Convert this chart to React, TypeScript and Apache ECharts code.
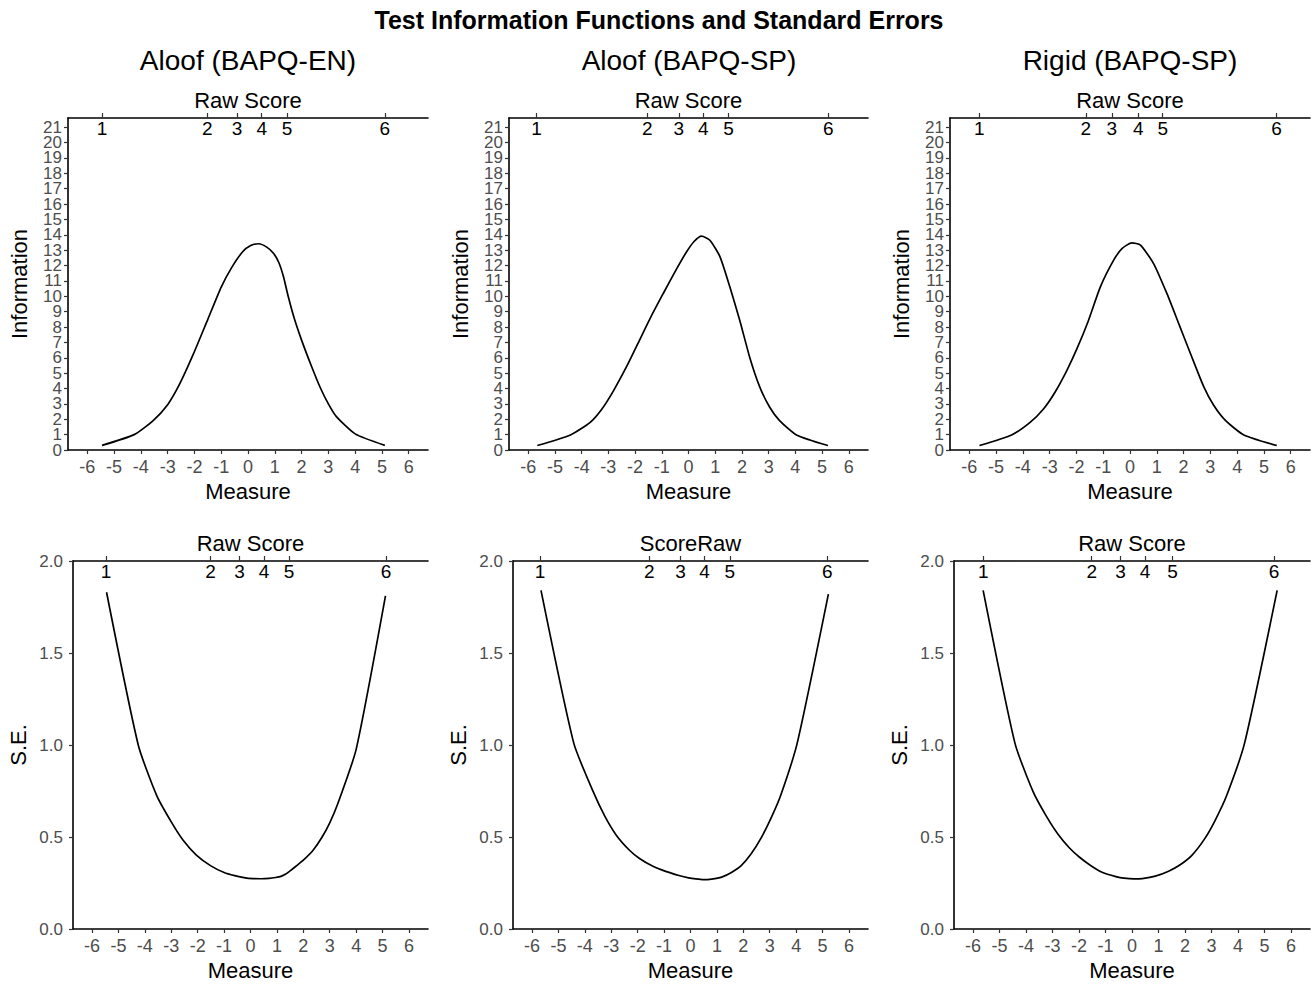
import React, { useEffect, useRef } from 'react';
import * as echarts from 'echarts';

// ---------- data ----------
const measureTicks = [-6, -5, -4, -3, -2, -1, 0, 1, 2, 3, 4, 5, 6];
const infoTicks = [0, 1, 2, 3, 4, 5, 6, 7, 8, 9, 10, 11, 12, 13, 14, 15, 16, 17, 18, 19, 20, 21];
const seTicks = [0, 0.5, 1, 1.5, 2];
const rawLabels = ['1', '2', '3', '4', '5', '6'];

const mainTitle = 'Test Information Functions and Standard Errors';
const panelTitles = ['Aloof (BAPQ-EN)', 'Aloof (BAPQ-SP)', 'Rigid (BAPQ-SP)'];
const rawNamesTop = ['Raw Score', 'Raw Score', 'Raw Score'];
const rawNamesBottom = ['Raw Score', 'ScoreRaw', 'Raw Score'];

// Aloof (BAPQ-EN)
const measure1 = [-5.45, -4.25, -3.55, -3.0, -2.55, -2.05, -1.5, -1.0, -0.6, -0.2, 0.1, 0.4, 0.7, 0.95, 1.15, 1.32, 1.5, 1.72, 2.0, 2.37, 2.7, 3.0, 3.3, 4.0, 5.11];
const info1 = [0.3, 1.0, 1.9, 2.95, 4.3, 6.2, 8.5, 10.6, 11.9, 12.9, 13.3, 13.42, 13.2, 12.8, 12.2, 11.3, 10.0, 8.6, 7.15, 5.45, 4.05, 3.0, 2.17, 1.05, 0.3];
const se1 = [1.83, 1.0, 0.725, 0.582, 0.482, 0.402, 0.343, 0.307, 0.29, 0.278, 0.274, 0.273, 0.275, 0.28, 0.286, 0.297, 0.316, 0.341, 0.374, 0.428, 0.497, 0.577, 0.679, 0.976, 1.81];
const rawTop1 = [-5.45, -1.52, -0.41, 0.51, 1.46, 5.11];
const rawBottom1 = [-5.47, -1.51, -0.42, 0.51, 1.46, 5.13];

// Aloof (BAPQ-SP)
const measure2 = [-5.66, -4.42, -3.68, -3.24, -2.81, -2.31, -1.93, -1.44, -0.94, -0.44, -0.07, 0.2, 0.49, 0.8, 1.18, 1.55, 1.92, 2.29, 2.67, 3.04, 3.41, 4.04, 5.22];
const info2 = [0.29, 0.98, 1.8, 2.67, 3.85, 5.45, 6.8, 8.55, 10.2, 11.8, 12.9, 13.55, 13.91, 13.65, 12.57, 10.6, 8.43, 6.04, 4.09, 2.78, 1.91, 0.98, 0.29];
const se2 = [1.84, 1.01, 0.745, 0.612, 0.51, 0.428, 0.383, 0.342, 0.313, 0.291, 0.278, 0.272, 0.268, 0.271, 0.282, 0.307, 0.344, 0.407, 0.494, 0.6, 0.724, 1.01, 1.82];
const rawTop2 = [-5.69, -1.54, -0.36, 0.55, 1.5, 5.23];
const rawBottom2 = [-5.7, -1.56, -0.38, 0.53, 1.49, 5.18];

// Rigid (BAPQ-SP)
const measure3 = [-5.62, -4.42, -3.73, -3.23, -2.8, -2.36, -1.98, -1.55, -1.11, -0.61, -0.3, 0.07, 0.39, 0.88, 1.38, 1.82, 2.26, 2.76, 3.13, 3.57, 4.25, 5.48];
const info3 = [0.29, 0.98, 1.8, 2.67, 3.76, 5.17, 6.59, 8.43, 10.6, 12.35, 13.1, 13.48, 13.33, 12.13, 10.17, 8.22, 6.26, 4.09, 2.89, 1.91, 0.98, 0.29];
const se3 = [1.84, 1.01, 0.745, 0.612, 0.516, 0.44, 0.39, 0.344, 0.307, 0.285, 0.276, 0.272, 0.274, 0.287, 0.314, 0.349, 0.4, 0.494, 0.588, 0.724, 1.01, 1.84];
const rawTop3 = [-5.63, -1.65, -0.68, 0.31, 1.22, 5.47];
const rawBottom3 = [-5.61, -1.52, -0.43, 0.49, 1.53, 5.36];

const measures = [measure1, measure2, measure3];
const infos = [info1, info2, info3];
const ses = [se1, se2, se3];
const rawTops = [rawTop1, rawTop2, rawTop3];
const rawBottoms = [rawBottom1, rawBottom2, rawBottom3];

// ---------- styling / layout ----------
const FONT = '"Liberation Sans", Arial, Helvetica, sans-serif';
const XMIN = -6.72;
const XMAX = 6.72;
const topGrids = [
  { left: 68, top: 118, width: 360, height: 332 },
  { left: 509, top: 118, width: 359, height: 332 },
  { left: 950, top: 118, width: 360, height: 332 },
];
const bottomGrids = [
  { left: 73, top: 561, width: 355, height: 368 },
  { left: 513, top: 561, width: 355, height: 368 },
  { left: 954, top: 561, width: 356, height: 368 },
];

function nearestIndex(arr: number[], v: number) {
  let best = 0;
  for (let i = 1; i < arr.length; i++) {
    if (Math.abs(arr[i] - v) < Math.abs(arr[best] - v)) best = i;
  }
  return best;
}

function buildOption() {
  const grid: any[] = [];
  const xAxis: any[] = [];
  const topXAxis: any[] = [];
  const yAxis: any[] = [];
  const extraY: any[] = [];
  const series: any[] = [];

  const axisLine = { show: true, onZero: false, lineStyle: { color: '#000', width: 1.6 } };
  const tickStyle = { color: '#333', width: 1.2 };

  const addPanel = (
    g: any,
    xs: number[],
    ys: number[],
    raw: number[],
    rawName: string,
    yName: string,
    yMax: number,
    yTicks: number[],
    yFmt: (v: number) => string,
    yMargin: number,
    yNameGap: number,
    splitLabels: boolean,
  ) => {
    const idx = grid.length;
    grid.push({ ...g, containLabel: false });
    xAxis.push({
      type: 'value',
      gridIndex: idx,
      position: 'bottom',
      min: XMIN,
      max: XMAX,
      axisLine,
      splitLine: { show: false },
      axisTick: { show: true, customValues: measureTicks, length: 4, lineStyle: tickStyle },
      axisLabel: {
        customValues: measureTicks,
        showMinLabel: true,
        showMaxLabel: true,
        formatter: (v: number) => String(Math.round(v)),
        color: '#4D4D4D',
        fontSize: 18,
        fontFamily: FONT,
        margin: 8,
      },
      name: 'Measure',
      nameLocation: 'middle',
      nameGap: 30,
      nameTextStyle: { color: '#000', fontSize: 22, fontFamily: FONT },
    });
    topXAxis.push({
      type: 'value',
      gridIndex: idx,
      position: 'top',
      min: XMIN,
      max: XMAX,
      axisLine,
      splitLine: { show: false },
      axisTick: { show: true, customValues: raw, length: 5, inside: false, lineStyle: tickStyle },
      axisLabel: {
        customValues: raw,
        showMinLabel: true,
        showMaxLabel: true,
        inside: true,
        margin: 1,
        formatter: (v: number) => rawLabels[nearestIndex(raw, v)],
        color: '#000',
        fontSize: 19,
        fontFamily: FONT,
      },
      name: rawName,
      nameLocation: 'middle',
      nameGap: 7,
      nameTextStyle: { color: '#000', fontSize: 22, fontFamily: FONT },
    });
    // dense labels are split over two coincident axes so that none is dropped
    const primaryLabels = splitLabels ? yTicks.filter((_, i) => i % 2 === 0) : yTicks;
    const secondaryLabels = splitLabels ? yTicks.filter((_, i) => i % 2 === 1) : [];
    const labelStyle = {
      showMinLabel: true,
      showMaxLabel: true,
      formatter: yFmt,
      color: '#4D4D4D',
      fontSize: 17,
      lineHeight: splitLabels ? 14 : 20,
      fontFamily: FONT,
      margin: yMargin,
    };
    yAxis.push({
      type: 'value',
      gridIndex: idx,
      position: 'left',
      min: 0,
      max: yMax,
      axisLine,
      splitLine: { show: false },
      axisTick: { show: true, customValues: yTicks, length: 4, lineStyle: tickStyle },
      axisLabel: { ...labelStyle, customValues: primaryLabels },
      name: yName,
      nameLocation: 'middle',
      nameGap: yNameGap,
      nameTextStyle: { color: '#000', fontSize: 22, fontFamily: FONT },
    });
    if (splitLabels) {
      extraY.push({
        type: 'value',
        gridIndex: idx,
        position: 'left',
        offset: 0,
        min: 0,
        max: yMax,
        axisLine: { show: false },
        splitLine: { show: false },
        axisTick: { show: false },
        axisLabel: { ...labelStyle, customValues: secondaryLabels },
      });
    }
    series.push({
      type: 'line',
      xAxisIndex: idx,
      yAxisIndex: idx,
      data: xs.map((x, i) => [x, ys[i]]),
      showSymbol: false,
      smooth: 0.2,
      lineStyle: { color: '#000', width: 1.7 },
      silent: true,
    });
  };

  for (let p = 0; p < 3; p++) {
    addPanel(
      topGrids[p], measures[p], infos[p], rawTops[p], rawNamesTop[p],
      'Information', 21.6, infoTicks, (v: number) => String(Math.round(v)), 6, 38, true,
    );
  }
  for (let p = 0; p < 3; p++) {
    addPanel(
      bottomGrids[p], measures[p], ses[p], rawBottoms[p], rawNamesBottom[p],
      'S.E.', 2.0, seTicks, (v: number) => v.toFixed(1), 10, 44, false,
    );
  }

  const allX = xAxis.concat(topXAxis);
  const allY = yAxis.concat(extraY);

  const panelCenters = [248, 689, 1130];
  const graphic: any[] = [
    {
      type: 'text',
      x: 659,
      y: 20,
      style: {
        text: mainTitle,
        align: 'center',
        verticalAlign: 'middle',
        fontSize: 25,
        fontWeight: 'bold',
        fontFamily: FONT,
        fill: '#000',
      },
    },
    ...panelTitles.map((t, i) => ({
      type: 'text',
      x: panelCenters[i],
      y: 60,
      style: {
        text: t,
        align: 'center',
        verticalAlign: 'middle',
        fontSize: 28,
        fontFamily: FONT,
        fill: '#000',
      },
    })),
  ];

  return {
    animation: false,
    backgroundColor: '#fff',
    textStyle: { fontFamily: FONT },
    grid,
    xAxis: allX,
    yAxis: allY,
    series,
    graphic,
  };
}

export default function App() {
  const ref = useRef<HTMLDivElement>(null);
  useEffect(() => {
    if (!ref.current) return;
    const chart = echarts.init(ref.current, undefined, { renderer: 'svg' });
    chart.setOption(buildOption());
    return () => chart.dispose();
  }, []);
  return (
    <div
      ref={ref}
      style={{ position: 'fixed', left: 0, top: 0, width: 1312, height: 985, background: '#fff' }}
    />
  );
}
